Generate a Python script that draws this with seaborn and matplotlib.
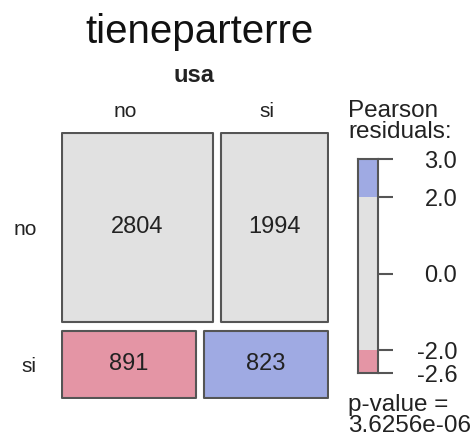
import numpy as np
import matplotlib
matplotlib.use("Agg")
import matplotlib.pyplot as plt
import seaborn as sns

# contingency table: rows = tieneparterre, columns = usa
row_var = "tieneparterre"
col_var = "usa"
row_levels = ["no", "si"]
col_levels = ["no", "si"]
counts = np.array([[2804, 1994],
                   [891, 823]])
p_value_text = "3.6256e-06"
legend_ticks = [3.0, 2.0, 0.0, -2.0, -2.6]

# pearson residuals -> shading
total = counts.sum()
row_tot = counts.sum(axis=1)
col_tot = counts.sum(axis=0)
expected = np.outer(row_tot, col_tot) / total
resid = (counts - expected) / np.sqrt(expected)

GRAY = "#e1e1e1"
PINK = "#e495a5"
BLUE = "#9faae3"
EDGE = "#555555"


def shade(r):
    if r > 2:
        return BLUE
    if r < -2:
        return PINK
    return GRAY


sns.set_style("white")
plt.rcParams['font.family'] = ['Liberation Sans', 'DejaVu Sans']

W, H = 475, 436
fig = plt.figure(figsize=(W / 100, H / 100), dpi=100)


def px(x, y):
    return x / W, 1 - y / H


# mosaic
ax = fig.add_axes([61 / W, (H - 399) / H, 268 / W, 267 / H])
gx, gy = 8 / 268, 9 / 267
y_top = 1.0
for i, r in enumerate(row_levels):
    h = (1 - gy) * row_tot[i] / total
    x_left = 0.0
    for j, c in enumerate(col_levels):
        w = (1 - gx) * counts[i, j] / row_tot[i]
        ax.bar(x_left, h, width=w, bottom=y_top - h, align='edge',
               color=shade(resid[i, j]), edgecolor=EDGE, linewidth=1.5,
               joinstyle='round')
        ax.text(x_left + w / 2, y_top - h / 2, str(counts[i, j]),
                ha='center', va='center', fontsize=17, color='#222222')
        x_left += w + gx
    y_top -= h + gy
ax.set_xlim(-0.004, 1.004)
ax.set_ylim(-0.004, 1.004)
ax.axis('off')

# legend bar
lo, hi = round(resid.min(), 1), round(resid.max(), 1)
lax = fig.add_axes([358 / W, (H - 373) / H, 20 / W, 214 / H])
segs = [(lo, -2, PINK), (-2, 2, GRAY), (2, hi, BLUE)]
for a, b, col in segs:
    lax.bar(0, b - a, bottom=a, width=1, align='edge', color=col, linewidth=0)
lax.set_xlim(0, 1)
lax.set_ylim(lo, hi)
for s in lax.spines.values():
    s.set_visible(True)
    s.set_color(EDGE)
    s.set_linewidth(1.5)
lax.set_xticks([])
lax.set_yticks(legend_ticks)
lax.set_yticklabels([f"{t:.1f}" for t in legend_ticks])
lax.tick_params(axis='y', left=False, right=True, labelleft=False, labelright=True,
                direction='out', length=11, width=1.5, color=EDGE, pad=46,
                labelsize=17, labelcolor='#222222')
for lab in lax.get_yticklabels():
    lab.set_horizontalalignment('right')

# text
fig.text(*px(200, 43), row_var, ha='center', va='baseline', fontsize=29, color='#111111')
fig.text(*px(194, 82), col_var, ha='center', va='baseline', fontsize=17,
         fontweight='bold', color='#222222')
for xc, lab in zip([125, 267], col_levels):
    fig.text(*px(xc, 117), lab, ha='center', va='baseline', fontsize=15, color='#222222')
for yb, lab in zip([235, 372], row_levels):
    fig.text(*px(36.5, yb), lab, ha='right', va='baseline', fontsize=15, color='#222222')
fig.text(*px(348, 117), "Pearson", ha='left', va='baseline', fontsize=17.5, color='#222222')
fig.text(*px(348, 138), "residuals:", ha='left', va='baseline', fontsize=17.5, color='#222222')
fig.text(*px(348, 411), "p-value =", ha='left', va='baseline', fontsize=17.5, color='#222222')
fig.text(*px(348, 432), p_value_text, ha='left', va='baseline', fontsize=17.5, color='#222222')

fig.savefig("out.png", dpi=100)
